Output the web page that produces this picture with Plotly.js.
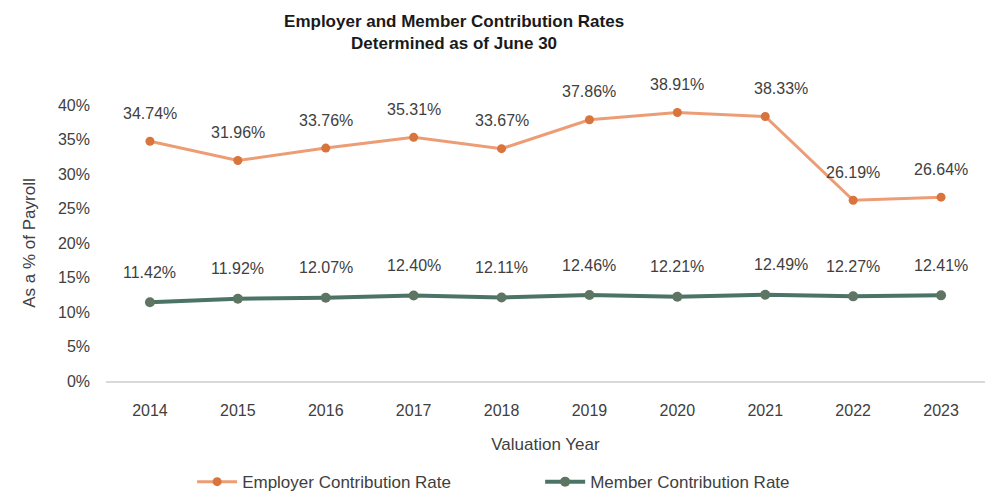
<!DOCTYPE html>
<html>
<head>
<meta charset="utf-8">
<script src="https://cdn.plot.ly/plotly-3.0.1.min.js"></script>
<style>
  html, body { margin: 0; padding: 0; background: #fff; }
  #chart { width: 988px; height: 497px; }
</style>
</head>
<body>
<div id="chart"></div>
<script>
// valuation years and rates (as % of payroll)
const years = ['2014', '2015', '2016', '2017', '2018', '2019', '2020', '2021', '2022', '2023'];
const employerRates = [34.74, 31.96, 33.76, 35.31, 33.67, 37.86, 38.91, 38.33, 26.19, 26.64];
const memberRates = [11.42, 11.92, 12.07, 12.40, 12.11, 12.46, 12.21, 12.49, 12.27, 12.41];

const FONT = 'Liberation Sans, Arial, sans-serif';
const TEXT = '#404040';

const employer = {
    x: years,
    y: employerRates,
    mode: 'lines+markers',
    name: 'Employer Contribution Rate',
    line: { color: '#ED9D76', width: 3 },
    marker: { color: '#D8743C', size: 9 }
};

const member = {
    x: years,
    y: memberRates,
    mode: 'lines+markers',
    name: 'Member Contribution Rate',
    line: { color: '#4B7467', width: 4 },
    marker: { color: '#5F7564', size: 10 }
};

// data labels above each point (x given as category index)
function labels(vals, shift) {
    return vals.map((v, i) => ({
        xref: 'x',
        yref: 'y',
        x: i,
        y: v,
        text: v.toFixed(2) + '%',
        showarrow: false,
        yshift: shift,
        xshift: i === 7 ? 16 : 0,
        font: { family: FONT, size: 16, color: TEXT }
    }));
}

const layout = {
    width: 988,
    height: 497,
    margin: { t: 105, b: 116, l: 106, r: 3 },
    paper_bgcolor: '#fff',
    plot_bgcolor: '#fff',
    font: { family: FONT, color: TEXT, size: 16 },
    title: {
        text: '<b>Employer and Member Contribution Rates<br>Determined as of June 30</b>',
        font: { family: FONT, size: 17, color: '#1a1a1a' },
        x: 0.396,
        xref: 'paper',
        xanchor: 'center',
        yref: 'container',
        y: 0.945,
        yanchor: 'middle'
    },
    xaxis: {
        type: 'category',
        range: [-0.5, 9.5],
        automargin: false,
        showgrid: false,
        showline: true,
        linecolor: '#d9d9d9',
        linewidth: 1.5,
        ticks: '',
        ticklabelstandoff: 14,
        tickfont: { size: 16, color: TEXT },
        title: { text: 'Valuation Year', font: { size: 17, color: TEXT }, standoff: 20 },
        zeroline: false
    },
    yaxis: {
        range: [0, 40],
        dtick: 5,
        ticksuffix: '%',
        automargin: false,
        showgrid: false,
        showline: false,
        zeroline: false,
        ticks: '',
        ticklabelstandoff: 15,
        tickfont: { size: 16, color: TEXT },
        title: { text: 'As a % of Payroll', font: { size: 17, color: TEXT }, standoff: 18 }
    },
    showlegend: true,
    legend: {
        orientation: 'h',
        xref: 'paper',
        x: 0.098,
        xanchor: 'left',
        yref: 'container',
        y: 0.03,
        yanchor: 'middle',
        font: { size: 17, color: TEXT },
        entrywidth: 293,
        entrywidthmode: 'pixels',
        itemwidth: 40
    },
    annotations: labels(employerRates, 28).concat(labels(memberRates, 30))
};

Plotly.newPlot('chart', [employer, member], layout, { displayModeBar: false, responsive: false });
</script>
</body>
</html>
